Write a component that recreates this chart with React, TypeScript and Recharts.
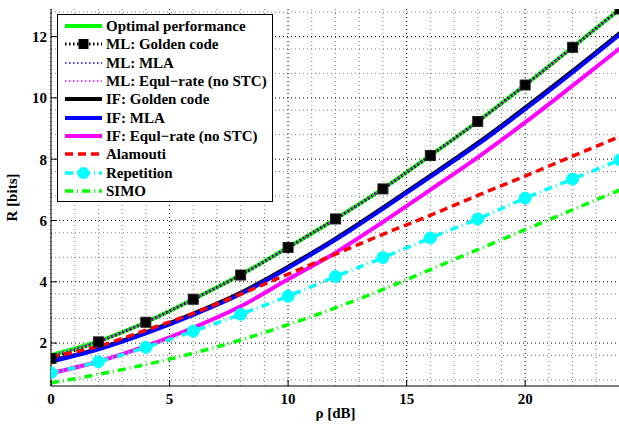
import React from "react";
import { LineChart, Line, XAxis, YAxis, CartesianGrid, Legend } from "recharts";

// SNR points (dB)
const snr = [0, 2, 4, 6, 8, 10, 12, 14, 16, 18, 20, 22, 24];

// rates in bits
const optimal = [1.6, 2.06, 2.68, 3.43, 4.23, 5.12, 6.05, 7.04, 8.12, 9.23, 10.42, 11.65, 12.9];
const mlGolden = [1.5, 2.04, 2.68, 3.43, 4.22, 5.12, 6.05, 7.03, 8.12, 9.23, 10.42, 11.65, 12.9];
const mlMla = [1.6, 2.06, 2.68, 3.43, 4.23, 5.12, 6.05, 7.04, 8.12, 9.23, 10.42, 11.65, 12.9];
const mlEqul = [1.6, 2.06, 2.68, 3.43, 4.23, 5.12, 6.05, 7.04, 8.12, 9.23, 10.42, 11.65, 12.9];
const ifGolden = [1.42, 1.82, 2.35, 2.96, 3.64, 4.49, 5.41, 6.42, 7.46, 8.53, 9.68, 10.88, 12.12];
const ifMla = [1.4, 1.8, 2.32, 2.92, 3.6, 4.45, 5.37, 6.38, 7.42, 8.48, 9.63, 10.83, 12.07];
const ifEqul = [1.02, 1.4, 1.9, 2.5, 3.2, 4.08, 4.95, 5.95, 7.0, 8.06, 9.2, 10.4, 11.62];
const alamouti = [1.55, 1.9, 2.42, 2.97, 3.6, 4.25, 4.9, 5.55, 6.17, 6.82, 7.45, 8.1, 8.74];
const repetition = [1.03, 1.39, 1.86, 2.39, 2.94, 3.53, 4.17, 4.79, 5.43, 6.05, 6.73, 7.35, 7.98];
const simo = [0.7, 0.98, 1.3, 1.67, 2.1, 2.6, 3.15, 3.75, 4.4, 5.05, 5.7, 6.35, 7.0];

const xTicks = [0, 5, 10, 15, 20];
const yTicks = [2, 4, 6, 8, 10, 12];
const xMinor = [1, 2, 3, 4, 6, 7, 8, 9, 11, 12, 13, 14, 16, 17, 18, 19, 21, 22, 23];
const yMinor = [0.8, 1.2, 1.6, 2.4, 2.8, 3.2, 3.6, 4.4, 4.8, 5.2, 5.6, 6.4, 6.8, 7.2, 7.6, 8.4, 8.8, 9.2, 9.6, 10.4, 10.8, 11.2, 11.6, 12.4, 12.8];

const data = snr.map((x, i) => ({
  x,
  optimal: optimal[i],
  mlGolden: mlGolden[i],
  mlMla: mlMla[i],
  mlEqul: mlEqul[i],
  ifGolden: ifGolden[i],
  ifMla: ifMla[i],
  ifEqul: ifEqul[i],
  alamouti: alamouti[i],
  repetition: repetition[i],
  simo: simo[i],
}));

const font = "'Liberation Serif', 'Times New Roman', serif";

const Square = (props: any) => {
  const { cx, cy, index } = props;
  if (cx == null || cy == null) return <g key={index} />;
  return <rect key={index} x={cx - 5} y={cy - 5} width={10} height={10} fill="#000" stroke="#222" strokeWidth={1} />;
};

const Circle = (props: any) => {
  const { cx, cy, index } = props;
  if (cx == null || cy == null) return <g key={index} />;
  return <circle key={index} cx={cx} cy={cy} r={6} fill="#00ffff" stroke="#00ffff" />;
};

type Series = {
  key: string;
  name: string;
  stroke: string;
  width: number;
  dash?: string;
  marker?: "square" | "circle";
};

const series: Series[] = [
  { key: "optimal", name: "Optimal performance", stroke: "#00ff00", width: 4 },
  { key: "mlGolden", name: "ML: Golden code", stroke: "#000000", width: 3, dash: "1.5 2.5", marker: "square" },
  { key: "mlMla", name: "ML: MLA", stroke: "#0000ff", width: 1.5, dash: "1.5 2.5" },
  { key: "mlEqul", name: "ML: Equl\u2212rate (no STC)", stroke: "#ff00ff", width: 1.5, dash: "1.5 2.5" },
  { key: "ifGolden", name: "IF: Golden code", stroke: "#000000", width: 4 },
  { key: "ifMla", name: "IF: MLA", stroke: "#0000ff", width: 4 },
  { key: "ifEqul", name: "IF: Equl\u2212rate (no STC)", stroke: "#ff00ff", width: 4 },
  { key: "alamouti", name: "Alamouti", stroke: "#ff0000", width: 3.5, dash: "8 5" },
  { key: "repetition", name: "Repetition", stroke: "#00ffff", width: 3.5, dash: "8 4 1 4", marker: "circle" },
  { key: "simo", name: "SIMO", stroke: "#00ff00", width: 3.5, dash: "8 4 1 4" },
];

const renderLegend = () => (
  <div
    style={{
      border: "1px solid #000",
      background: "#fff",
      width: 216,
      height: 188,
      boxSizing: "border-box",
      paddingTop: 2,
      fontFamily: font,
      fontWeight: "bold",
      fontSize: 15,
    }}
  >
    {series.map((s) => (
      <div key={s.key} style={{ display: "flex", alignItems: "center", height: 18.3 }}>
        <svg width={48} height={14} style={{ flex: "none" }}>
          <line x1={7} y1={7} x2={44} y2={7} stroke={s.stroke} strokeWidth={s.width} strokeDasharray={s.dash} />
          {s.marker === "square" && <rect x={20.5} y={2} width={10} height={10} fill="#000" />}
          {s.marker === "circle" && <circle cx={25.5} cy={7} r={6} fill="#00ffff" />}
        </svg>
        <span style={{ whiteSpace: "nowrap", lineHeight: "18px" }}>{s.name}</span>
      </div>
    ))}
  </div>
);

const tickStyle = { fill: "#000", fontFamily: font, fontWeight: "bold", fontSize: 15 } as any;

export default function App() {
  return (
    <div style={{ position: "fixed", left: 0, top: 0, width: 619, height: 424, overflow: "hidden", background: "#fff" }}>
      <LineChart width={622} height={424} data={data} margin={{ top: 9, right: 2, bottom: 8, left: 11 }}>
        <CartesianGrid horizontalValues={yMinor} verticalValues={xMinor} stroke="#808080" strokeDasharray="1 3" />
        <CartesianGrid horizontalValues={yTicks} verticalValues={xTicks} stroke="#000" strokeDasharray="1 3" />
        <XAxis
          dataKey="x"
          type="number"
          domain={[0, 24]}
          ticks={xTicks}
          allowDataOverflow
          height={30}
          stroke="#000"
          tickSize={-6}
          tickMargin={13}
          tick={tickStyle}
          label={{ value: "\u03c1 [dB]", position: "insideBottom", offset: -2, style: { fill: "#000", fontFamily: font, fontWeight: "bold", fontSize: 15 } }}
        />
        <XAxis xAxisId="top" dataKey="x" type="number" domain={[0, 24]} ticks={xTicks} orientation="top" height={0} stroke="#000" tickSize={-6} tick={false} />
        <YAxis
          type="number"
          domain={[0.6, 12.9]}
          ticks={yTicks}
          allowDataOverflow
          width={40}
          stroke="#000"
          tickSize={-6}
          tickMargin={10}
          tick={tickStyle}
          label={{ value: "R [bits]", angle: -90, position: "insideLeft", offset: 1, style: { fill: "#000", fontFamily: font, fontWeight: "bold", fontSize: 15, textAnchor: "middle" } }}
        />
        <Legend
          layout="horizontal"
          verticalAlign="middle"
          align="center"
          wrapperStyle={{ left: 57, top: 14, width: 216 }}
          content={renderLegend}
        />
        {series.map((s) => (
          <Line
            key={s.key}
            dataKey={s.key}
            name={s.name}
            type="monotone"
            stroke={s.stroke}
            strokeWidth={s.width}
            strokeDasharray={s.dash}
            dot={s.marker === "square" ? Square : s.marker === "circle" ? Circle : false}
            activeDot={false}
            isAnimationActive={false}
          />
        ))}
      </LineChart>
    </div>
  );
}
